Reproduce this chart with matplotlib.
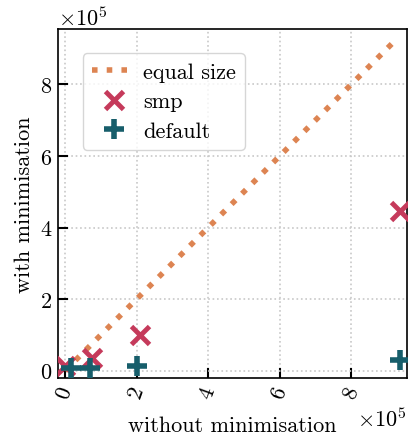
import numpy as np
import matplotlib
matplotlib.use('Agg')
import matplotlib.pyplot as plt

# values (units of 1)
smp_x = [0.0, 0.75e5, 2.1e5, 9.36e5]
smp_y = [0.14e5, 0.35e5, 1.0e5, 4.47e5]
default_x = [0.17e5, 0.7e5, 2.0e5, 9.36e5]
default_y = [0.08e5, 0.07e5, 0.14e5, 0.31e5]
equal_line = [0.0, 9.27e5]

plt.rcParams['font.family'] = 'serif'
plt.rcParams['font.serif'] = ['cmr10']
plt.rcParams['mathtext.fontset'] = 'cm'
plt.rcParams['axes.formatter.use_mathtext'] = True
plt.rcParams['font.size'] = 16

fig = plt.figure(figsize=(4.08, 4.39), dpi=100)
ax = fig.add_axes([0.142, 0.137, 0.855, 0.795])

ax.plot(equal_line, equal_line, ls=':', lw=4, color='#dd8452', label='equal size', zorder=2)
ax.plot(smp_x, smp_y, ls='none', marker='x', ms=13, mew=3.5, color='#c53a5b', label='smp', zorder=3)
ax.plot(default_x, default_y, ls='none', marker='+', ms=14, mew=4, color='#175e6b', label='default', zorder=4)

ax.set_xlim(-0.2e5, 9.55e5)
ax.set_ylim(-0.2e5, 9.55e5)
ax.set_xticks([0, 2e5, 4e5, 6e5, 8e5])
ax.set_yticks([0, 2e5, 4e5, 6e5, 8e5])
ax.ticklabel_format(style='sci', scilimits=(0, 0))
ax.grid(True, ls=':', lw=1.2, color='#c8c8c8')
ax.tick_params(direction='in', length=7, width=1.5, pad=4)
plt.setp(ax.get_xticklabels(), rotation=70)
for s in ax.spines.values():
    s.set_linewidth(1.2)

ax.set_xlabel('without minimisation', labelpad=10)
ax.set_ylabel('with minimisation', labelpad=4)
ax.legend(loc='upper left', bbox_to_anchor=(0.072, 0.93), borderaxespad=0, fontsize=16,
          handlelength=2.0, handletextpad=0.3, labelspacing=0.45, borderpad=0.4)

fig.savefig('out.png', dpi=100)
